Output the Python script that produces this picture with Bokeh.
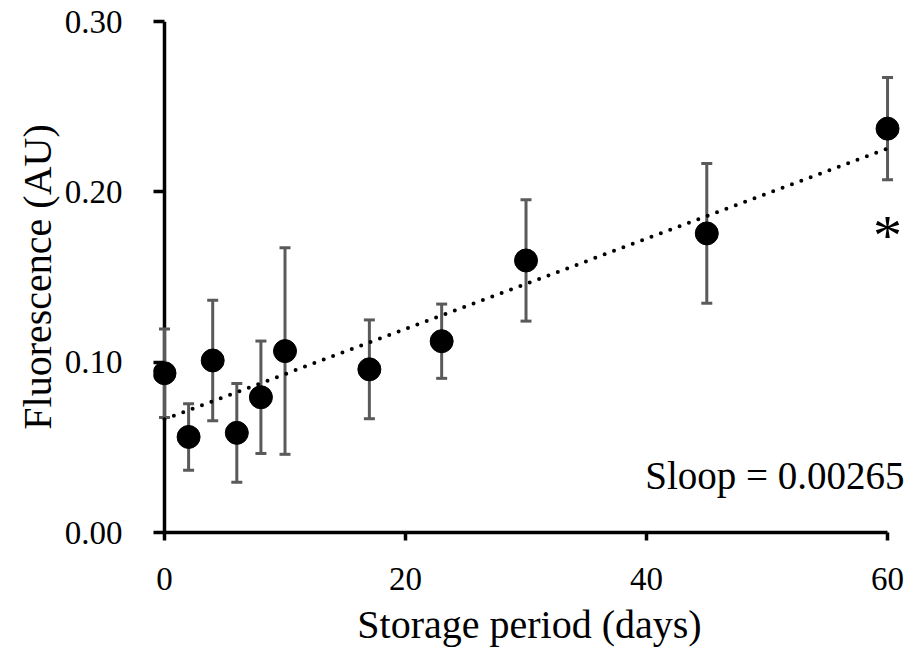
import numpy as np
from bokeh.plotting import figure
from bokeh.models import (ColumnDataSource, Whisker, TeeHead, Range1d, FixedTicker,
                          NumeralTickFormatter, Label, Span)
from bokeh.embed import file_html
from bokeh.resources import INLINE

# ---- data ----
days = [0, 2, 4, 6, 8, 10, 17, 23, 30, 45, 60]
fluorescence = [0.0935, 0.0561, 0.1010, 0.0585, 0.0794, 0.1065, 0.0958, 0.1123, 0.1597, 0.1756, 0.2371]
error = [0.0260, 0.0195, 0.0354, 0.0290, 0.0330, 0.0606, 0.0290, 0.0218, 0.0356, 0.0410, 0.0300]
x_ticks = [0, 20, 40, 60]
y_ticks = [0.00, 0.10, 0.20, 0.30]
trend_slope = 0.00265
trend_intercept = 0.0665
slope_text = "Sloop = 0.00265"
x_title = "Storage period (days)"
y_title = "Fluorescence (AU)"

FONT = "Liberation Serif"
BAR = "#5a5a5a"

lower = [f - e for f, e in zip(fluorescence, error)]
upper = [f + e for f, e in zip(fluorescence, error)]
src = ColumnDataSource(dict(x=days, y=fluorescence, lower=lower, upper=upper))

p = figure(width=906, height=649, output_backend="svg", toolbar_location=None,
           x_range=Range1d(-0.913, 61.49), y_range=Range1d(y_ticks[0], y_ticks[-1]),
           min_border_left=153, min_border_right=1, min_border_top=21, min_border_bottom=113)
p.outline_line_color = None
p.xgrid.visible = False
p.ygrid.visible = False
p.background_fill_color = "white"
p.border_fill_color = "white"

# y axis line at x = 0
p.add_layout(Span(location=x_ticks[0], dimension="height", line_color="black",
                  line_width=3.5, level="underlay"))

# trend line
tx = np.array([days[0], days[-1]], dtype=float)
p.line(tx, trend_intercept + trend_slope * tx, line_color="black", line_width=4,
       line_dash="0 10", line_cap="round")

# error bars
wh = Whisker(source=src, base="x", lower="lower", upper="upper",
             line_color=BAR, line_width=3,
             upper_head=TeeHead(size=11, line_color=BAR, line_width=3),
             lower_head=TeeHead(size=11, line_color=BAR, line_width=3))
p.add_layout(wh)

# points
p.scatter("x", "y", source=src, size=23, fill_color="black", line_color="black")

# axes
for ax in (p.xaxis[0], p.yaxis[0]):
    ax.axis_line_width = 3.5
    ax.major_tick_line_width = 3.5
    ax.axis_line_color = "black"
    ax.major_tick_line_color = "black"
    ax.minor_tick_line_color = None
    ax.major_label_text_font = FONT
    ax.major_label_text_font_size = "33px"
    ax.major_label_text_color = "black"
    ax.axis_label_text_font = FONT
    ax.axis_label_text_font_size = "40px"
    ax.axis_label_text_font_style = "normal"
    ax.axis_label_text_color = "black"

p.xaxis.ticker = FixedTicker(ticks=x_ticks)
p.xaxis.bounds = (x_ticks[0], x_ticks[-1])
p.xaxis.major_tick_in = 0
p.xaxis.major_tick_out = 8
p.xaxis.major_label_standoff = 27
p.xaxis.axis_label = x_title
p.xaxis.axis_label_standoff = 9

p.yaxis.ticker = FixedTicker(ticks=y_ticks)
p.yaxis.formatter = NumeralTickFormatter(format="0.00")
p.yaxis.axis_line_color = None
p.yaxis.major_tick_in = 11
p.yaxis.major_tick_out = 0
p.yaxis.major_label_standoff = 31
p.yaxis.axis_label = y_title
p.yaxis.axis_label_standoff = 2

# annotations
p.add_layout(Label(x=days[-1], y=0.0332, x_offset=17, text=slope_text, text_align="right",
                   text_baseline="alphabetic", text_font=FONT, text_font_size="39px",
                   text_color="black"))
p.add_layout(Label(x=days[-1], y=lower[-1], y_offset=-56, text="*", text_align="center",
                   text_baseline="alphabetic", text_font=FONT, text_font_size="58px",
                   text_color="black"))

open("out.html", "w").write(file_html(p, INLINE))
